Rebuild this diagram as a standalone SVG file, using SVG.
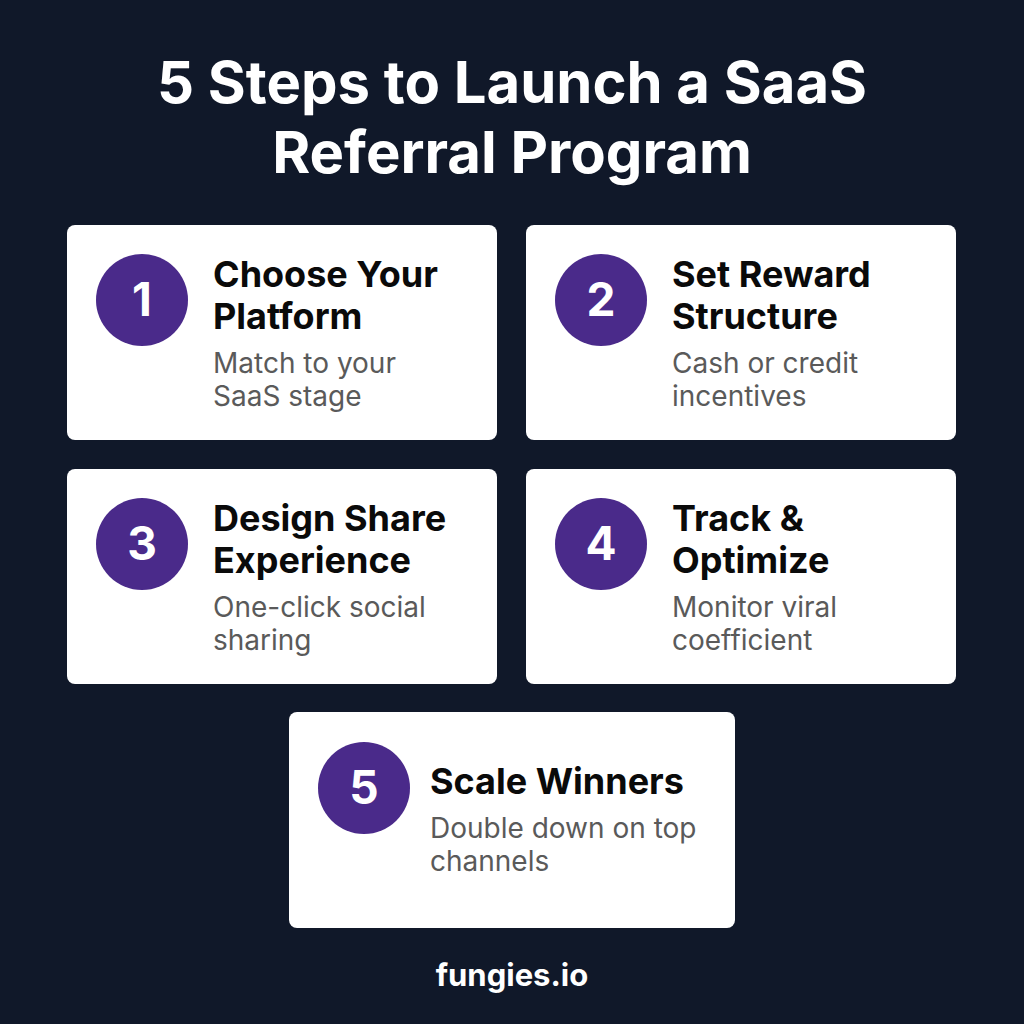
<svg xmlns="http://www.w3.org/2000/svg" width="1024" height="1024" viewBox="0 0 1024 1024">
<style>
.title{font-family:Inter,"Liberation Sans",sans-serif;font-weight:700;font-size:58px;fill:#fff;text-anchor:middle}
.card{fill:#fff}
.circ{fill:#4a2a8a}
.num{font-family:Inter,"Liberation Sans",sans-serif;font-weight:700;font-size:46px;fill:#fff;text-anchor:middle}
.h{font-family:Inter,"Liberation Sans",sans-serif;font-weight:700;font-size:36px;fill:#0a0a0a}
.d{font-family:Inter,"Liberation Sans",sans-serif;font-weight:400;font-size:28px;fill:#5a5a5a}
.foot{font-family:Inter,"Liberation Sans",sans-serif;font-weight:700;font-size:31px;fill:#fff;text-anchor:middle}
</style>
<rect width="1024" height="1024" fill="#101829"/>
<text class="title" x="512" y="103">5 Steps to Launch a SaaS</text>
<text class="title" x="512" y="173">Referral Program</text>
<g id="step1">
<rect class="card" x="67" y="225" width="430" height="215" rx="8"/>
<circle class="circ" cx="142" cy="300" r="46"/>
<text class="num" x="142" y="316">1</text>
<text class="h" x="213" y="287">Choose Your</text>
<text class="h" x="213" y="329">Platform</text>
<text class="d" x="213" y="373">Match to your</text>
<text class="d" x="213" y="406">SaaS stage</text>
</g>
<g id="step2">
<rect class="card" x="526" y="225" width="430" height="215" rx="8"/>
<circle class="circ" cx="601" cy="300" r="46"/>
<text class="num" x="601" y="316">2</text>
<text class="h" x="672" y="287">Set Reward</text>
<text class="h" x="672" y="329">Structure</text>
<text class="d" x="672" y="373">Cash or credit</text>
<text class="d" x="672" y="406">incentives</text>
</g>
<g id="step3">
<rect class="card" x="67" y="469" width="430" height="215" rx="8"/>
<circle class="circ" cx="142" cy="544" r="46"/>
<text class="num" x="142" y="560">3</text>
<text class="h" x="213" y="531">Design Share</text>
<text class="h" x="213" y="573">Experience</text>
<text class="d" x="213" y="617">One-click social</text>
<text class="d" x="213" y="650">sharing</text>
</g>
<g id="step4">
<rect class="card" x="526" y="469" width="430" height="215" rx="8"/>
<circle class="circ" cx="601" cy="544" r="46"/>
<text class="num" x="601" y="560">4</text>
<text class="h" x="672" y="531">Track &amp;</text>
<text class="h" x="672" y="573">Optimize</text>
<text class="d" x="672" y="617">Monitor viral</text>
<text class="d" x="672" y="650">coefficient</text>
</g>
<g id="step5">
<rect class="card" x="289" y="712" width="446" height="216" rx="8"/>
<circle class="circ" cx="364" cy="788" r="46"/>
<text class="num" x="364" y="804">5</text>
<text class="h" x="430" y="794">Scale Winners</text>
<text class="d" x="430" y="838">Double down on top</text>
<text class="d" x="430" y="871">channels</text>
</g>
<g id="connectors"/>
<text class="foot" x="512" y="986">fungies.io</text>
</svg>
